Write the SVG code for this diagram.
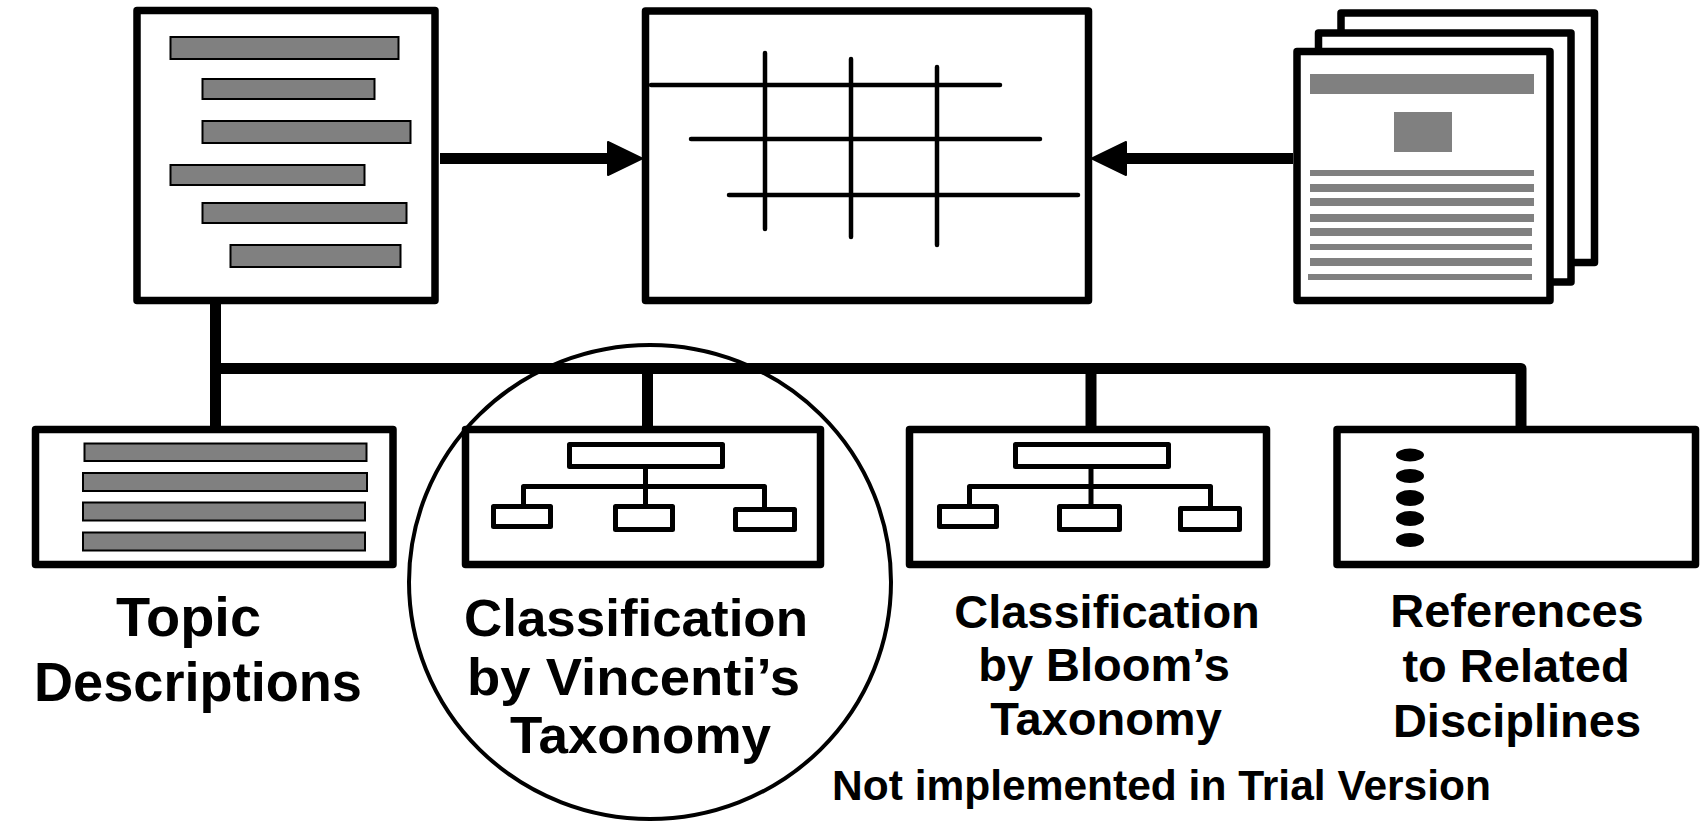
<svg xmlns="http://www.w3.org/2000/svg" width="1700" height="826" viewBox="0 0 1700 826">
  <style>
    .box { fill: #fff; stroke: #000; stroke-width: 7.5; stroke-linejoin: round; }
    .bar { fill: #808080; stroke: #000; stroke-width: 2; }
    .ink { fill: #808080; }
    .grid { stroke: #000; stroke-width: 4.5; stroke-linecap: round; fill: none; }
    .org { fill: #fff; stroke: #000; stroke-width: 5; stroke-linejoin: round; }
    .orgline { stroke: #000; stroke-width: 5; fill: none; stroke-linecap: round; stroke-linejoin: round; }
    .wire { stroke: #000; stroke-width: 11; fill: none; stroke-linecap: round; stroke-linejoin: round; }
    .head { fill: #000; stroke: #000; stroke-width: 2; stroke-linejoin: round; }
    .label { font-family: "Liberation Sans", Arial, sans-serif; font-weight: bold; fill: #000; text-anchor: middle; }
    .huge { font-size: 55px; }
    .big { font-size: 52px; }
    .mid { font-size: 47px; }
    .note { font-size: 42.5px; }
  </style>

  <!-- connectors -->
  <g id="connectors">
    <line class="wire" x1="440" y1="158.5" x2="610" y2="158.5" style="stroke-linecap:butt"/>
    <polygon class="head" points="642,158.5 608,142 608,175"/>
    <line class="wire" x1="1293" y1="158.5" x2="1124" y2="158.5" style="stroke-linecap:butt"/>
    <polygon class="head" points="1092,158.5 1126,142 1126,175"/>
    <line class="wire" x1="215.5" y1="301" x2="215.5" y2="428"/>
    <path class="wire" d="M215.5,368.5 H1521 V428"/>
    <line class="wire" x1="647.5" y1="368.5" x2="647.5" y2="428"/>
    <line class="wire" x1="1091" y1="368.5" x2="1091" y2="428"/>
  </g>

  <!-- topic outline -->
  <g id="topics">
    <rect class="box" x="137" y="10.5" width="298" height="290"/>
    <rect class="bar" x="170.5" y="37" width="228" height="22"/>
    <rect class="bar" x="202.5" y="79" width="172" height="20"/>
    <rect class="bar" x="202.5" y="121" width="208" height="22"/>
    <rect class="bar" x="170.5" y="165" width="194" height="20"/>
    <rect class="bar" x="202.5" y="203" width="204" height="20"/>
    <rect class="bar" x="230.5" y="245" width="170" height="22"/>
  </g>

  <!-- matrix -->
  <g id="matrix">
    <rect class="box" x="645.5" y="11" width="443" height="289.5"/>
    <line class="grid" x1="651" y1="85" x2="1000" y2="85"/>
    <line class="grid" x1="691" y1="139" x2="1040" y2="139"/>
    <line class="grid" x1="729" y1="195" x2="1078" y2="195"/>
    <line class="grid" x1="765" y1="53" x2="765" y2="229"/>
    <line class="grid" x1="851" y1="59" x2="851" y2="237"/>
    <line class="grid" x1="937" y1="67" x2="937" y2="245"/>
  </g>

  <!-- document stack -->
  <g id="documents">
    <rect class="box" x="1341" y="13" width="253.5" height="249.5"/>
    <rect class="box" x="1318.5" y="33" width="252.5" height="249"/>
    <rect class="box" x="1297" y="51.5" width="253" height="249"/>
    <rect class="ink" x="1310" y="74" width="224" height="20"/>
    <rect class="ink" x="1394" y="112" width="58" height="40"/>
    <rect class="ink" x="1310" y="170" width="224" height="6"/>
    <rect class="ink" x="1310" y="184" width="224" height="8"/>
    <rect class="ink" x="1310" y="198" width="224" height="8"/>
    <rect class="ink" x="1310" y="214" width="224" height="8"/>
    <rect class="ink" x="1310" y="228" width="222" height="8"/>
    <rect class="ink" x="1310" y="244" width="222" height="6"/>
    <rect class="ink" x="1310" y="258" width="222" height="8"/>
    <rect class="ink" x="1308" y="274" width="224" height="6"/>
  </g>

  <!-- topic descriptions -->
  <g id="descriptions">
    <rect class="box" x="35.5" y="429.5" width="357.5" height="135"/>
    <rect class="bar" x="84.5" y="443.5" width="282" height="17.5"/>
    <rect class="bar" x="83" y="473" width="284" height="18"/>
    <rect class="bar" x="83" y="502.5" width="282" height="18"/>
    <rect class="bar" x="83" y="532.5" width="282" height="18"/>
    <text class="label huge" x="188.5" y="636" textLength="145" lengthAdjust="spacingAndGlyphs">Topic</text>
    <text class="label huge" x="198" y="701" textLength="328" lengthAdjust="spacingAndGlyphs">Descriptions</text>
  </g>

  <!-- Vincenti classification -->
  <g id="vincenti">
    <rect class="box" x="465.5" y="429.5" width="355" height="135"/>
    <rect class="org" x="569.5" y="444.5" width="153" height="22"/>
    <path class="orgline" d="M645.5,469 V504 M523.5,504 V486.5 H764.5 V507"/>
    <rect class="org" x="493.5" y="506.5" width="57" height="20"/>
    <rect class="org" x="615.5" y="506.5" width="57" height="23"/>
    <rect class="org" x="735.5" y="509.5" width="59" height="20"/>
    <text class="label big" x="636" y="636" textLength="344" lengthAdjust="spacingAndGlyphs">Classification</text>
    <text class="label big" x="633.5" y="695" textLength="333" lengthAdjust="spacingAndGlyphs">by Vincenti’s</text>
    <text class="label big" x="640.5" y="753" textLength="261" lengthAdjust="spacingAndGlyphs">Taxonomy</text>
  </g>

  <!-- highlight ring -->
  <ellipse id="highlight" cx="650" cy="582" rx="241" ry="237" fill="none" stroke="#000" stroke-width="4"/>

  <!-- Bloom classification -->
  <g id="bloom">
    <rect class="box" x="909.5" y="429.5" width="357" height="135"/>
    <rect class="org" x="1015.5" y="444.5" width="153" height="22"/>
    <path class="orgline" d="M1091,469 V504 M969.5,504 V486.5 H1210.5 V506"/>
    <rect class="org" x="939.5" y="506.5" width="57" height="20"/>
    <rect class="org" x="1059.5" y="506.5" width="60" height="23"/>
    <rect class="org" x="1180.5" y="508.5" width="59" height="21"/>
    <text class="label mid" x="1107" y="628">Classification</text>
    <text class="label mid" x="1104" y="681">by Bloom’s</text>
    <text class="label mid" x="1106" y="735">Taxonomy</text>
  </g>

  <!-- related disciplines -->
  <g id="references">
    <rect class="box" x="1337" y="429.5" width="358.5" height="135"/>
    <ellipse cx="1410" cy="455" rx="14" ry="6.5"/>
    <ellipse cx="1410" cy="476" rx="14" ry="7"/>
    <ellipse cx="1410" cy="498" rx="14" ry="8"/>
    <ellipse cx="1410" cy="518.5" rx="14" ry="7.5"/>
    <ellipse cx="1410" cy="540" rx="14" ry="7"/>
    <text class="label mid" x="1517" y="627">References</text>
    <text class="label mid" x="1516" y="682">to Related</text>
    <text class="label mid" x="1517" y="737">Disciplines</text>
  </g>

  <text id="trial-note" class="label note" x="1161.5" y="800">Not implemented in Trial Version</text>
</svg>
